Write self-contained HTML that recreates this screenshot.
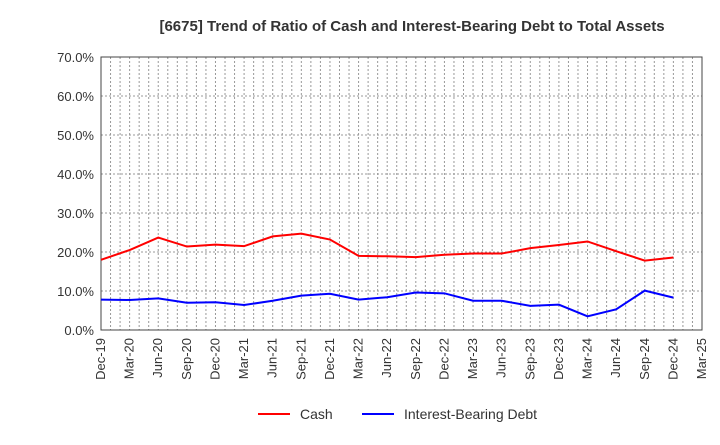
<!DOCTYPE html>
<html><head><meta charset="utf-8"><style>
body{margin:0;background:#fff;font-family:"Liberation Sans",Arial,sans-serif;}
</style></head><body>
<svg id="chart" width="720" height="440" xmlns="http://www.w3.org/2000/svg">
<text x="412" y="31" text-anchor="middle" font-size="15" font-weight="bold" fill="#333">[6675]  Trend of Ratio of Cash and Interest-Bearing Debt to Total Assets</text>
<g id="grid"></g>
<g id="axes"></g>
<g id="series"></g>
<g>
<line x1="258" y1="414" x2="290" y2="414" stroke="#f00" stroke-width="2"/>
<text x="300" y="419" font-size="14" fill="#333">Cash</text>
<line x1="362" y1="414" x2="394" y2="414" stroke="#00f" stroke-width="2"/>
<text x="404" y="419" font-size="14" fill="#333">Interest-Bearing Debt</text>
</g>
</svg>
<script>
const xLabels=["Dec-19","Mar-20","Jun-20","Sep-20","Dec-20","Mar-21","Jun-21","Sep-21","Dec-21","Mar-22","Jun-22","Sep-22","Dec-22","Mar-23","Jun-23","Sep-23","Dec-23","Mar-24","Jun-24","Sep-24","Dec-24","Mar-25"];
const yTicks=[0,10,20,30,40,50,60,70];
const cash=[18.0,20.5,23.7,21.4,21.9,21.5,24.0,24.7,23.2,19.0,18.9,18.7,19.3,19.6,19.6,21.0,21.8,22.7,20.2,17.8,18.6];
const debt=[7.8,7.7,8.1,7.0,7.1,6.4,7.5,8.8,9.3,7.8,8.4,9.6,9.4,7.5,7.5,6.2,6.5,3.5,5.3,10.1,8.3];
const L=101,R=702,T=57,B=330,NS="http://www.w3.org/2000/svg";
const xs=i=>L+(R-L)*i/(xLabels.length-1);
const ys=v=>B-(B-T)*v/70;
function mk(tag,attrs,parent){const e=document.createElementNS(NS,tag);for(const k in attrs)e.setAttribute(k,attrs[k]);document.getElementById(parent).appendChild(e);return e;}
for(let m=1;m<(xLabels.length-1)*3;m++){const x=L+(R-L)*m/((xLabels.length-1)*3);
const g=mk('line',{x1:x,y1:T,x2:x,y2:B,stroke:'#999','stroke-dasharray':'2,2','stroke-width':1},'grid');

}
yTicks.forEach(v=>{const y=ys(v);
if(v>0){const g=mk('line',{x1:L,y1:y,x2:R,y2:y,stroke:'#999','stroke-dasharray':'2,2','stroke-width':1},'grid');

}
const t=mk('text',{x:L-7,y:y+5,'text-anchor':'end','font-size':13,fill:'#333'},'axes');t.textContent=v.toFixed(1)+'%';

});
xLabels.forEach((s,i)=>{const x=xs(i);
const t=mk('text',{x:x+4,y:B+8,'text-anchor':'end','font-size':13,fill:'#333',transform:`rotate(-90 ${x+4} ${B+8})`},'axes');t.textContent=s;

});
const fr=mk('rect',{x:L,y:T,width:R-L,height:B-T,fill:'none',stroke:'#444','stroke-width':1},'axes');


[[cash,'#f00','cash-line'],[debt,'#00f','debt-line']].forEach(([d,c,n])=>{
const p=mk('polyline',{points:d.map((v,i)=>xs(i)+','+ys(v)).join(' '),fill:'none',stroke:c,'stroke-width':2},'series');

});
</script>
</body></html>
